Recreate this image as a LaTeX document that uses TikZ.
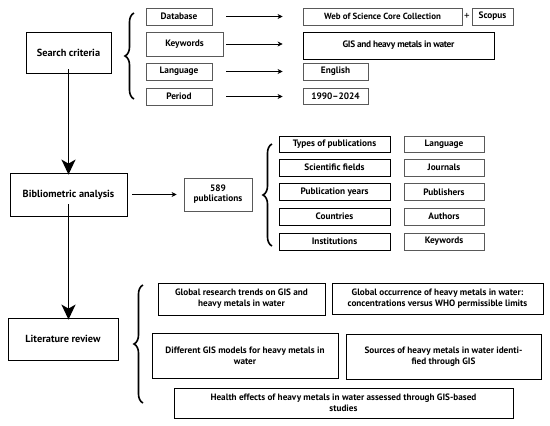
\documentclass[tikz,border=0pt]{standalone}
\usepackage{fontspec}
\setmainfont{PT Sans}
\usetikzlibrary{decorations.pathreplacing,arrows.meta}
\begin{document}
\begin{tikzpicture}[x=1pt,y=-1pt,
  box/.style={draw=#1,line width=0.8pt,inner sep=0pt,align=center,font=\fontsize{9.3}{10}\selectfont\bfseries},
  box/.default=black,
  gbox/.style={box=black!65},
  mainbox/.style={box,font=\fontsize{10.3}{11}\selectfont\bfseries},
  litbox/.style={draw=black,line width=0.8pt,inner sep=1pt,align=center,font=\fontsize{9.2}{11}\selectfont\bfseries},
  thinarrow/.style={-{Stealth[length=5pt,width=5pt]},line width=0.7pt},
  bigarrow/.style={-{Stealth[length=15pt,width=14pt,inset=4pt]},line width=1.8pt},
  curly/.style={decorate,decoration={brace,amplitude=#1},line width=1.6pt},
]
\useasboundingbox (0,0) rectangle (550,426);
% Search criteria
\node[mainbox,minimum width=85pt,minimum height=41pt] (sc) at (68.5,52.5) {Search criteria};
\node[gbox,minimum width=66pt,minimum height=17pt] (db) at (179,16.5) {Database};
\node[gbox,minimum width=77pt,minimum height=24pt] (kw) at (184.5,44) {Keywords};
\node[gbox,minimum width=66pt,minimum height=17pt] (lang) at (179,71.5) {Language};
\node[gbox,minimum width=66pt,minimum height=17pt] (per) at (179,96.5) {Period};
\node[gbox,minimum width=159pt,minimum height=17pt,font=\fontsize{8.9}{10}\selectfont\bfseries] (wos) at (382.5,16.5) {Web of Science Core Collection};
\node[inner sep=0pt,font=\fontsize{11}{11}\selectfont] (plus) at (467,16.5) {+};
\node[gbox,minimum width=41pt,minimum height=17pt] (scop) at (492.5,16.5) {Scopus};
\node[box,minimum width=191pt,minimum height=27pt,font=\fontsize{9.3}{10}\selectfont\bfseries\addfontfeatures{LetterSpace=-4}] (gis) at (398.5,45.5) {GIS and heavy metals in water};
\node[gbox,minimum width=65pt,minimum height=17pt] (eng) at (335.5,71.5) {English};
\node[gbox,minimum width=65pt,minimum height=16pt] (yrs) at (335.5,96) {1990--2024};
\draw[curly=9pt] (134,99) -- (134,13);
\draw[thinarrow] ([xshift=14pt]db.east) -- ([xshift=-20pt]wos.west);
\draw[thinarrow] ([xshift=3pt]kw.east) -- ([xshift=-20pt]kw.east -| gis.west);
\draw[thinarrow] ([xshift=14pt]lang.east) -- ([xshift=-20pt]eng.west);
\draw[thinarrow] ([xshift=14pt]per.east) -- ([xshift=-20pt]per.east -| yrs.west);
% Bibliometric analysis
\node[mainbox,minimum width=117pt,minimum height=43pt] (bib) at (68.5,194.5) {Bibliometric analysis};
\node[gbox,minimum width=68pt,minimum height=33pt,font=\fontsize{9.3}{9.8}\selectfont\bfseries] (n589) at (218,194.5) {589\\publications};
\draw[bigarrow] ([yshift=4pt]sc.south) -- ([yshift=-2pt]bib.north);
\draw[thinarrow] ([xshift=5pt]bib.east) -- ([xshift=-7pt]n589.west);
\draw[curly=9pt] (272,246) -- (272,144);
\node[box,minimum width=111pt,minimum height=16pt] (t1) at (334.5,144.5) {Types of publications};
\node[box,minimum width=111pt,minimum height=17pt] (t2) at (334.5,167.5) {Scientific fields};
\node[box,minimum width=111pt,minimum height=17pt] (t3) at (334.5,192) {Publication years};
\node[box,minimum width=111pt,minimum height=17pt] (t4) at (334.5,216.5) {Countries};
\node[box,minimum width=111pt,minimum height=17pt] (t5) at (334.5,241.5) {Institutions};
\node[gbox,minimum width=80pt,minimum height=16pt] (u1) at (444,144.5) {Language};
\node[gbox,minimum width=80pt,minimum height=17pt] (u2) at (444,167.5) {Journals};
\node[gbox,minimum width=80pt,minimum height=17pt] (u3) at (444,192) {Publishers};
\node[gbox,minimum width=80pt,minimum height=17pt] (u4) at (444,216.5) {Authors};
\node[gbox,minimum width=80pt,minimum height=17pt] (u5) at (444,241.5) {Keywords};
% Literature review
\node[mainbox,minimum width=110pt,minimum height=42pt] (lit) at (63,339) {Literature review};
\draw[bigarrow] ([yshift=12pt]bib.south) -- ([yshift=-2pt]bib.south |- lit.north);
\draw[curly=9pt] (143,403) -- (143,285);
\node[litbox,minimum width=167pt,minimum height=32pt] (b1) at (241.5,299) {Global research trends on GIS and\\heavy metals in water};
\node[litbox,minimum width=211pt,minimum height=31pt] (b2) at (437.5,298.5) {Global occurrence of heavy metals in water:\\concentrations versus WHO permissible limits};
\node[litbox,minimum width=186pt,minimum height=45pt] (b3) at (245,355.5) {Different GIS models for heavy metals in\\water};
\node[litbox,minimum width=195pt,minimum height=45pt] (b4) at (443.5,356.5) {Sources of heavy metals in water identi-\\fied through GIS};
\node[litbox,minimum width=339pt,minimum height=30pt] (b5) at (343.5,403) {Health effects of heavy metals in water assessed through GIS-based\\studies};
\end{tikzpicture}
\end{document}
